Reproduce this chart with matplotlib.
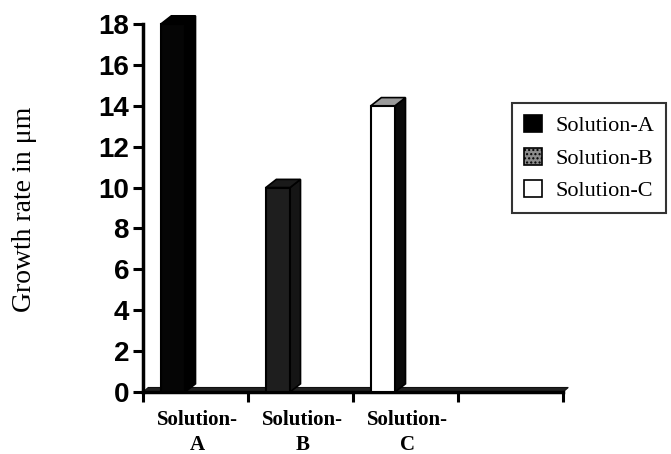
import matplotlib.pyplot as plt
from matplotlib.patches import Polygon, Patch

categories = ["Solution-\nA", "Solution-\nB", "Solution-\nC"]
values = [18, 10, 14]
series = ["Solution-A", "Solution-B", "Solution-C"]
front_colors = ["#050505", "#1e1e1e", "#ffffff"]
side_colors = ["#000000", "#151515", "#0a0a0a"]
top_colors = ["#000000", "#1a1a1a", "#9a9a9a"]
legend_colors = ["#000000", "#8c8c8c", "#ffffff"]

fig = plt.figure(figsize=(6.71, 4.54), dpi=100)
ax = fig.add_axes([143 / 671, 1 - 392 / 454, 420 / 671, 368 / 454])

x0 = 0.17
w = 0.23
dx = 0.1
dy = 0.4

# floor strip of the 3d base
ax.add_patch(Polygon([(0, 0), (4, 0), (4 + 0.05, 0.22), (0.05, 0.22)],
                     closed=True, facecolor="#222222", edgecolor="#111111",
                     lw=0.8, zorder=2, clip_on=False))

for i, v in enumerate(values):
    left = i + x0
    ax.bar(left, v, width=w, align="edge", color=front_colors[i],
           edgecolor="black", linewidth=1.5, zorder=4, clip_on=False)
    side = [(left + w, 0), (left + w + dx, dy), (left + w + dx, v + dy), (left + w, v)]
    top = [(left, v), (left + dx, v + dy), (left + w + dx, v + dy), (left + w, v)]
    ax.add_patch(Polygon(side, closed=True, facecolor=side_colors[i],
                         edgecolor="black", lw=1.2, zorder=3, clip_on=False))
    ax.add_patch(Polygon(top, closed=True, facecolor=top_colors[i],
                         edgecolor="black", lw=1.2, zorder=5, clip_on=False))

ax.set_xlim(0, 4)
ax.set_ylim(0, 18)
ax.set_yticks(range(0, 19, 2))
ax.set_xticks(range(0, 5))
ax.set_xticklabels([])
for i, c in enumerate(categories):
    ax.text(i + 0.52, -0.9, c, ha="center", va="top", fontsize=15,
            fontweight="bold", family="Liberation Serif", linespacing=1.3)

for lab in ax.get_yticklabels():
    lab.set_fontsize(20)
    lab.set_fontweight("bold")
    lab.set_family("Liberation Sans")

ax.spines["top"].set_visible(False)
ax.spines["right"].set_visible(False)
ax.spines["left"].set_linewidth(2.5)
ax.spines["bottom"].set_linewidth(2.5)
ax.tick_params(axis="both", direction="out", length=7, width=2.2, pad=3)

fig.text(25 / 671, 1 - 209 / 454, "Growth rate in μm", rotation=90,
         ha="center", va="center", fontsize=20, family="Liberation Serif")

handles = [Patch(facecolor=legend_colors[i], edgecolor="black", lw=1.2,
                 hatch="...." if i == 1 else None) for i in range(3)]
leg = fig.legend(handles, series, loc="upper left",
                 bbox_to_anchor=(512 / 671, 1 - 103 / 454), borderaxespad=0,
                 prop={"family": "Liberation Serif", "size": 16},
                 frameon=True, fancybox=False, edgecolor="black",
                 handlelength=0.8, handleheight=0.8, handletextpad=0.6,
                 borderpad=0.55, labelspacing=0.5)
leg.get_frame().set_linewidth(1.5)

fig.savefig("out.png", dpi=100)
